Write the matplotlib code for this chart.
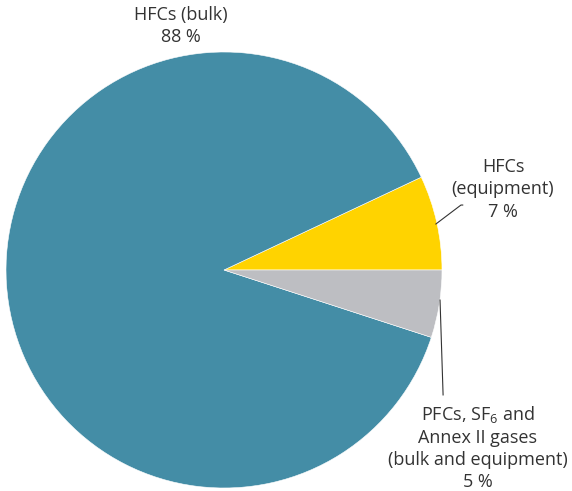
import matplotlib
matplotlib.use("Agg")
import matplotlib.pyplot as plt

plt.rcParams['font.family'] = ['Open Sans', 'DejaVu Sans']
plt.rcParams['mathtext.fontset'] = 'custom'
plt.rcParams['mathtext.rm'] = 'Open Sans'
plt.rcParams['mathtext.it'] = 'Open Sans'

# shares in %, counter-clockwise from 3 o'clock
labels = ["HFCs\n(equipment)\n7 %", "HFCs (bulk)\n88 %",
          "PFCs, SF$_6$ and\nAnnex II gases\n(bulk and equipment)\n5 %"]
shares = [7, 88, 5]
colors = ["#FFD300", "#448DA6", "#BDBEC2"]

W, H = 572, 491
fig = plt.figure(figsize=(W / 100, H / 100), dpi=100)
cx, cy, r = 224, 270, 218
ax = fig.add_axes([(cx - r) / W, (H - cy - r) / H, 2 * r / W, 2 * r / H])

ax.pie(shares, colors=colors, startangle=0, counterclock=True, radius=1,
       wedgeprops=dict(edgecolor="white", linewidth=0.4))
ax.set_xlim(-1, 1)
ax.set_ylim(-1, 1)
ax.set_aspect("equal")
ax.axis("off")

txt = dict(ha="center", va="center", fontsize=13, color="#333333",
           linespacing=1.3, clip_on=False)
ax.text(-0.20, 1.12, labels[1], **txt)
ax.text(1.28, 0.37, labels[0], **txt)
ax.text(1.165, -0.815, labels[2], **txt)

# leader lines
ax.plot([0.972, 1.087, 1.095], [0.211, 0.298, 0.298], color="#333333",
        lw=0.8, clip_on=False)
ax.plot([0.991, 1.005], [-0.138, -0.573], color="#333333", lw=0.8,
        clip_on=False)

fig.savefig("out.png", dpi=100)
